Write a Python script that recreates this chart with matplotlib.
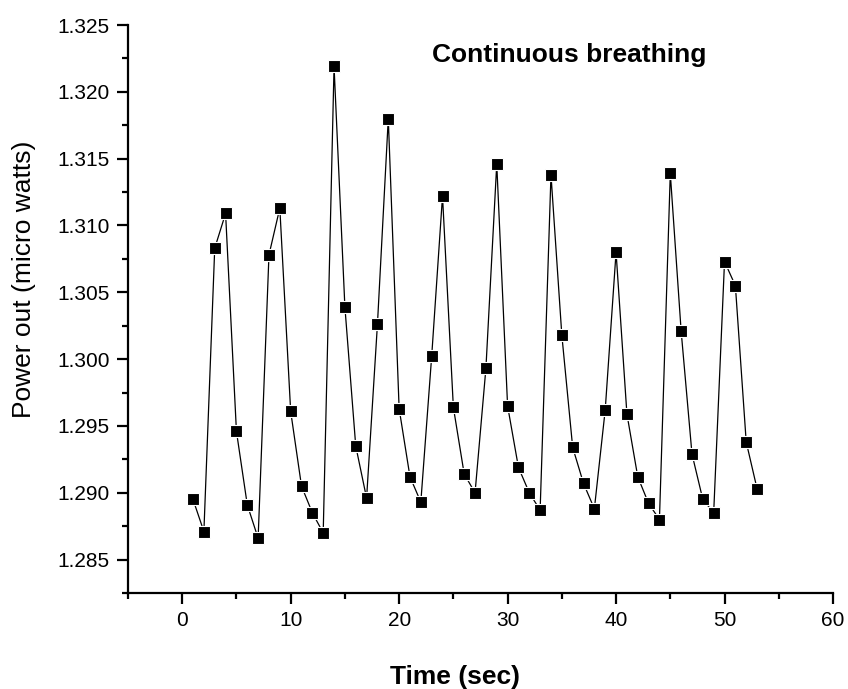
import numpy as np
import matplotlib
matplotlib.use("Agg")
import matplotlib.pyplot as plt
from matplotlib.ticker import MultipleLocator

plt.rcParams['font.family'] = ['Liberation Sans', 'DejaVu Sans']

# time (sec) and power out (micro watts)
time_s = np.arange(1, 54)
power = [1.2895, 1.2871, 1.3083, 1.3109, 1.2946, 1.2891, 1.2866, 1.3078, 1.3113, 1.2961,
         1.2905, 1.2885, 1.2870, 1.3219, 1.3039, 1.2935, 1.2896, 1.3026, 1.3180, 1.2963,
         1.2912, 1.2893, 1.3002, 1.3122, 1.2964, 1.2914, 1.2900, 1.2993, 1.3146, 1.2965,
         1.2919, 1.2900, 1.2887, 1.3138, 1.3018, 1.2934, 1.2907, 1.2888, 1.2962, 1.3080,
         1.2959, 1.2912, 1.2892, 1.2880, 1.3139, 1.3021, 1.2929, 1.2895, 1.2885, 1.3073,
         1.3055, 1.2938, 1.2903]

fig = plt.figure(figsize=(8.48, 6.89), dpi=100)
ax = fig.add_axes([0.1509, 0.1393, 0.8314, 0.8244])

ax.plot(time_s, power, color='black', lw=0.9, marker='s', markersize=8,
        markerfacecolor='black', markeredgecolor='white', markeredgewidth=0.8)

ax.set_xlim(-5, 60)
ax.set_ylim(1.2825, 1.325)
ax.xaxis.set_major_locator(MultipleLocator(10))
ax.xaxis.set_minor_locator(MultipleLocator(5))
ax.yaxis.set_major_locator(MultipleLocator(0.005))
ax.yaxis.set_minor_locator(MultipleLocator(0.0025))
ax.yaxis.set_major_formatter(plt.FormatStrFormatter('%.3f'))

for s in ['top', 'right']:
    ax.spines[s].set_visible(False)
for s in ['left', 'bottom']:
    ax.spines[s].set_linewidth(1.6)

ax.tick_params(which='major', direction='out', length=8, width=1.6, labelsize=15, pad=5)
ax.tick_params(which='minor', direction='out', length=4.5, width=1.6)

ax.set_xlabel('Time (sec)', fontsize=19, fontweight='bold', va='center')
ax.xaxis.set_label_coords(0.464, -0.148)
ax.set_ylabel('Power out (micro watts)', fontsize=19, va='center')
ax.yaxis.set_label_coords(-0.1475, 0.553)

ax.text(0.6255, 0.947, 'Continuous breathing', transform=ax.transAxes,
        fontsize=19, fontweight='bold', ha='center', va='center')

fig.savefig('out.png', dpi=100)
